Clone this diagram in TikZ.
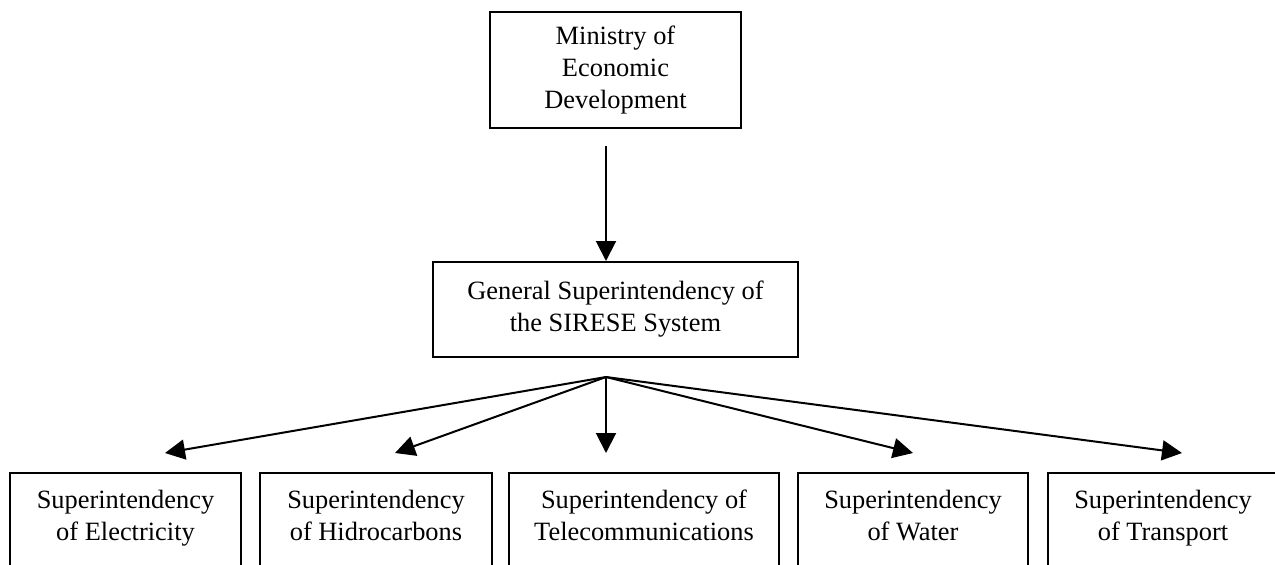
\documentclass[tikz,border=0pt]{standalone}
\usepackage{fontspec}
\setmainfont{Liberation Serif}
\usetikzlibrary{arrows.meta}
\tikzset{
	box/.style={draw, line width=1pt, align=center, inner sep=0pt,
		font=\fontsize{13.2}{16}\selectfont},
	unit/.style={box, anchor=north, minimum width=#1, inner ysep=8.5pt, text depth=40pt},
	link/.style={-{Triangle[length=10pt,width=10pt]}, line width=1pt}
}
\begin{document}
\begin{tikzpicture}[x=0.5pt,y=-0.5pt]
		\def \top{472}
		\def \tipy{453}
		\useasboundingbox (0,0) rectangle (1275,564);
		% upper levels
		\node[box, minimum width=125.5pt, minimum height=58pt] (ministry) at (615.5,70)
			{Ministry of\\Economic\\Development};
		\node[box, minimum width=182.5pt, minimum height=47.5pt] (general) at (615.5,309.5)
			{General Superintendency of\\the SIRESE System};
		% superintendencies
		\node[unit=115.5pt] (elec) at (125.5,\top) {Superintendency\\of Electricity};
		\node[unit=116pt] (hidro) at (376,\top) {Superintendency\\of Hidrocarbons};
		\node[unit=135pt] (tele) at (644,\top) {Superintendency of\\Telecommunications};
		\node[unit=115pt] (water) at (913,\top) {Superintendency\\of Water};
		\node[unit=115pt] (trans) at (1163,\top) {Superintendency\\of Transport};
		% arrows
		\coordinate (drop) at (606,146);
		\coordinate (fan) at (606,377);
		\draw[link] (drop) -- (drop |- general.north);
		\draw[link] (fan) -- (165,\tipy);
		\draw[link] (fan) -- (395,\tipy);
		\draw[link] (fan) -- (606,\tipy);
		\draw[link] (fan) -- (913,\tipy);
		\draw[link] (fan) -- (1182,\tipy);
	\end{tikzpicture}
\end{document}
